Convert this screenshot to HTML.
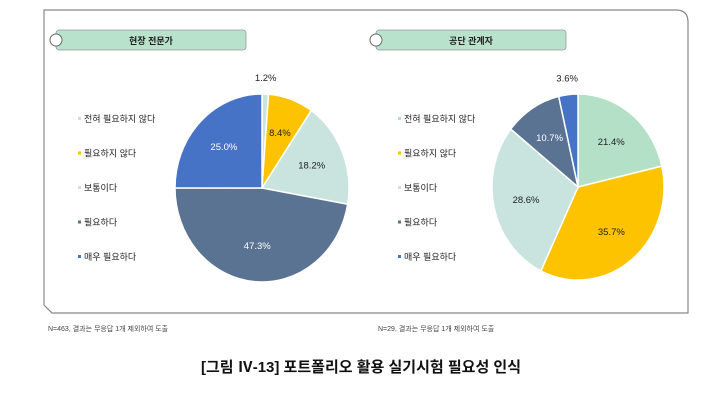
<!DOCTYPE html>
<html><head><meta charset="utf-8"><style>
body{margin:0;background:#fff;}
svg{display:block;font-family:"Liberation Sans","Noto Sans CJK KR",sans-serif;}
</style></head><body>
<svg width="722" height="403" viewBox="0 0 722 403">
<path d="M44,10 L676,10 Q688,10 688,22 L688,313 L52,313 L44,305 Z" fill="#fff" stroke="#888" stroke-width="1.2"/>
<g id="charts"></g>
<text x="48" y="331" font-size="7" fill="#444">N=463, 결과는 무응답 1개 제외하여 도출</text>
<text x="378" y="331" font-size="7" fill="#444">N=29, 결과는 무응답 1개 제외하여 도출</text>
<text x="361" y="372" font-size="15" font-weight="bold" text-anchor="middle" fill="#111">[그림 Ⅳ-13] 포트폴리오 활용 실기시험 필요성 인식</text>
</svg>
<script>
const categories = ["전혀 필요하지 않다","필요하지 않다","보통이다","필요하다","매우 필요하다"];
const expertValues = [1.2, 8.4, 18.2, 47.3, 25.0];
const agencyValues = [21.4, 35.7, 28.6, 10.7, 3.6];
const colorsLeft = ["#c9e4df","#fdc300","#c9e4df","#5b7393","#4673c6"];
const colorsRight = ["#b4e0c7","#fdc300","#c9e4df","#5b7393","#4673c6"];
const NS = "http://www.w3.org/2000/svg";
const root = document.getElementById("charts");
function mk(tag, attrs, parent){const e=document.createElementNS(NS,tag);for(const k in attrs)e.setAttribute(k,attrs[k]);(parent||root).appendChild(e);return e;}
function drawPanel(ox, title, values, colors, cx, cy, rx, ry, key){
  const g = mk("g",{});
  
  
  const hdr = mk("rect",{x:ox+8,y:30,width:190,height:20,rx:3,fill:"#b8e2cc",stroke:"#999","stroke-width":0.8},g);
  
  
  const c = mk("circle",{cx:ox+8,cy:40,r:6,fill:"#fff",stroke:"#666","stroke-width":1},g);
  
  
  const t = mk("text",{x:ox+103,y:44,"font-size":9,"font-weight":"bold","text-anchor":"middle",fill:"#222"},g);
  t.textContent = title;
  
  
  categories.forEach((cat,i)=>{
    const y = 122 + i*34.5;
    const sq = mk("rect",{x:ox+30,y:y-5,width:3,height:3,fill:colors[i]},g);
    
    
    const lt = mk("text",{x:ox+36,y:y,"font-size":9,fill:"#222"},g);
    lt.textContent = cat;
    
    
  });
  const total = values.reduce((a,b)=>a+b,0);
  let a0 = -Math.PI/2;
  values.forEach((v,i)=>{
    const a1 = a0 + v/total*2*Math.PI;
    const x0=cx+rx*Math.cos(a0), y0=cy+ry*Math.sin(a0);
    const x1=cx+rx*Math.cos(a1), y1=cy+ry*Math.sin(a1);
    const large = (a1-a0)>Math.PI?1:0;
    const p = mk("path",{d:`M${cx},${cy} L${x0},${y0} A${rx},${ry} 0 ${large} 1 ${x1},${y1} Z`,fill:colors[i],stroke:"#fff","stroke-width":1.5},g);
    
    
    const am=(a0+a1)/2;
    const f = v<5 ? 1.12 : 0.62;
    const lx=cx+rx*f*Math.cos(am), ly=cy+ry*f*Math.sin(am)+(v<5?-2:3);
    const dark = colors[i]==="#5b7393"||colors[i]==="#4673c6";
    const lab = mk("text",{x:lx,y:ly,"font-size":9.5,"text-anchor":"middle",fill:(dark&&v>=5)?"#fff":"#222"},g);
    lab.textContent = v.toFixed(1)+"%";
    
    
    a0 = a1;
  });
}
drawPanel(48, "현장 전문가", expertValues, colorsLeft, 262, 188, 87, 94, "expert");
drawPanel(368, "공단 관계자", agencyValues, colorsRight, 578, 187, 86, 93, "agency");
</script>
</body></html>
